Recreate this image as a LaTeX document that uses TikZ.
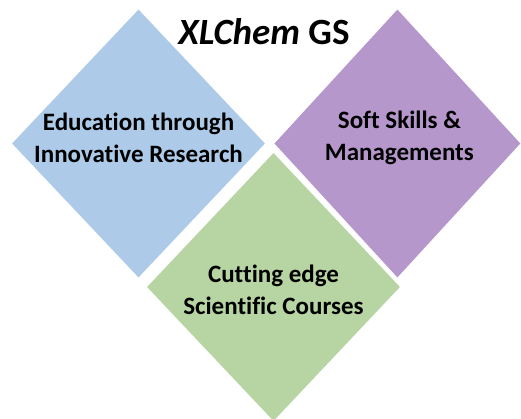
\documentclass[tikz,border=0pt]{standalone}
\usepackage{fontspec}
\setmainfont{Carlito}[Ligatures=NoCommon]
\usetikzlibrary{positioning,shapes.geometric}
\definecolor{edublue}{HTML}{ADCBE9}
\definecolor{softpurple}{HTML}{B597CC}
\definecolor{scigreen}{HTML}{B7D5A3}
\tikzset{
	pillar/.style={diamond,inner sep=0pt,minimum width=253pt,minimum height=268pt},
	caption/.style={align=center,inner sep=0pt,font=\fontsize{25}{32}\selectfont\bfseries},
	heading/.style={font=\fontsize{37}{44}\selectfont\bfseries}
}

\begin{document}
\begin{tikzpicture}[x=1pt,y=1pt]
	\useasboundingbox (0,0) rectangle (521,419);
	
	\node[pillar, fill=edublue] (edu) at (138.5,275.5) {};
	\node[pillar, fill=softpurple, minimum width=246pt] (soft) [right=9pt of edu] {};
	\node[pillar, fill=scigreen] (sci) at (273.5,132) {};
	
	\node[caption] (edutext) at ([yshift=6pt]edu.center) {Education through\\Innovative Research};
	\node[caption] (softtext) at ([xshift=2pt,yshift=6pt]soft.center) {Soft Skills \&\\Managements};
	\node[caption] (scitext) at ([yshift=-3pt]sci.center) {Cutting edge\\Scientific Courses};
	
	\node[heading, anchor=base] (title) at (264,374) {\textit{XLChem} GS};
	
\end{tikzpicture}
\end{document}
